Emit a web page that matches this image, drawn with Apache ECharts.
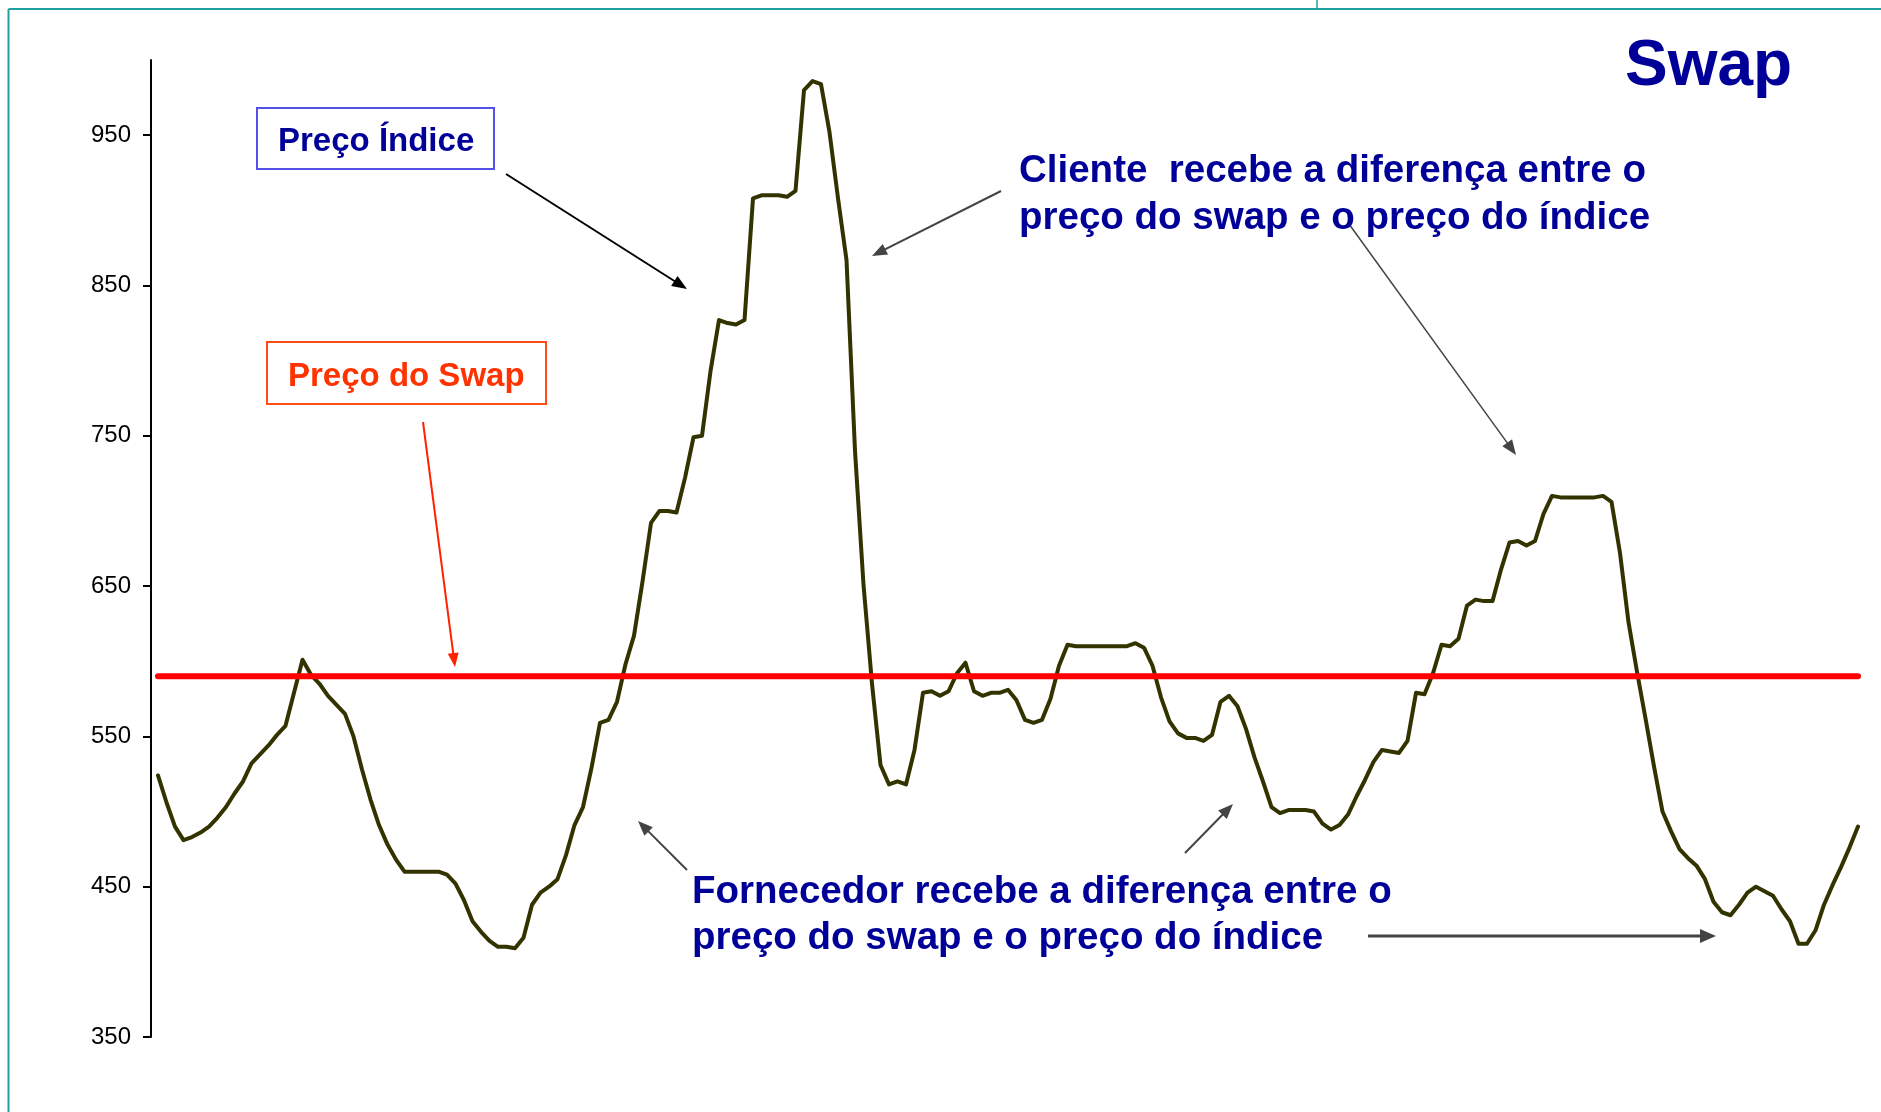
<!DOCTYPE html>
<html>
<head>
<meta charset="utf-8">
<script src="https://cdn.jsdelivr.net/npm/echarts@6/dist/echarts.min.js"></script>
<style>
html,body{margin:0;padding:0;background:#fff;}
#chart{width:1881px;height:1112px;}
</style>
</head>
<body>
<div id="chart"></div>
<script>
// ---- data ----
const indexPrice = [
524,506,490,481,483,486,490,496,503,512,
520,532,538,544,551,557,579,601,591,585,
577,571,565,550,528,508,491,478,468,460,
460,460,460,460,458,452,441,427,420,414,
410,410,409,416,438,446,450,455,471,491,
503,529,559,561,573,598,617,653,692,700,
700,699,722,749,750,793,827,825,824,827,
908,910,910,910,909,913,980,986,984,952,
908,867,740,651,585,531,518,520,518,541,
579,580,577,580,592,599,580,577,579,579,
581,574,561,559,561,575,597,611,610,610,
610,610,610,610,610,612,609,597,576,560,
552,549,549,547,551,573,577,570,555,536,
520,503,499,501,501,501,500,492,488,491,
498,510,521,533,541,540,539,547,579,578,
592,611,610,615,637,641,640,640,661,679,
680,677,680,698,710,709,709,709,709,709,
710,706,672,626,593,562,530,500,487,475,
469,464,455,440,433,431,438,446,450,447,
444,435,427,412,412,421,438,451,463,476,
490
];
const swapPrice = 590;
const yTickValues = [350, 450, 550, 650, 750, 850, 950];
const yMin = 350, yMax = 1000;

const title = 'Swap';
const labelIndex = 'Preço Índice';
const labelSwap = 'Preço do Swap';
const clienteLines = ['Cliente  recebe a diferença entre o', 'preço do swap e o preço do índice'];
const fornecedorLines = ['Fornecedor recebe a diferença entre o', 'preço do swap e o preço do índice'];

// ---- build ----
const days = indexPrice.map((_, i) => String(i + 1));
const swapData = indexPrice.map(() => swapPrice);

const FONT = '"Liberation Sans", Arial, Helvetica, sans-serif';
const BLUE = '#000099';
const TEAL = '#1fa0a0';

function arrow(x1, y1, x2, y2, color, w, headLen, headW) {
  const dx = x2 - x1, dy = y2 - y1, L = Math.hypot(dx, dy);
  const ux = dx / L, uy = dy / L;
  const bx = x2 - ux * headLen, by = y2 - uy * headLen;
  const px = -uy * headW / 2, py = ux * headW / 2;
  return [
    {type: 'line', z: 20, shape: {x1: x1, y1: y1, x2: bx + ux * 1, y2: by + uy * 1},
     style: {stroke: color, lineWidth: w}},
    {type: 'polygon', z: 20, shape: {points: [[x2, y2], [bx + px, by + py], [bx - px, by - py]]},
     style: {fill: color}}
  ];
}
function txt(x, y, s, size, color) {
  return {type: 'text', z: 25, x: x, y: y,
    style: {text: s, fill: color, font: 'bold ' + size + 'px ' + FONT,
      align: 'left', verticalAlign: 'middle', textAlign: 'left', textVerticalAlign: 'middle'}};
}

const graphics = [
  // frame
  {type: 'line', z: 30, shape: {x1: 8.5, y1: 9, x2: 1881, y2: 9}, style: {stroke: TEAL, lineWidth: 2}},
  {type: 'line', z: 30, shape: {x1: 8.5, y1: 9, x2: 8.5, y2: 1112}, style: {stroke: TEAL, lineWidth: 2}},
  {type: 'line', z: 30, shape: {x1: 1317, y1: 0, x2: 1317, y2: 9}, style: {stroke: TEAL, lineWidth: 1.5}},
  // title
  txt(1625, 67, title, 64, BLUE),
  // boxes
  {type: 'rect', z: 22, shape: {x: 257, y: 108, width: 237, height: 61},
   style: {fill: '#fff', stroke: '#5252e6', lineWidth: 2}},
  txt(278, 142, labelIndex, 33, BLUE),
  {type: 'rect', z: 22, shape: {x: 267, y: 342, width: 279, height: 62},
   style: {fill: '#fff', stroke: '#ff4d1a', lineWidth: 2}},
  txt(288, 377, labelSwap, 33, '#ff3300'),
  // annotation texts
  txt(1019, 171.5, clienteLines[0], 38.5, BLUE),
  txt(1019, 218.5, clienteLines[1], 38.5, BLUE),
  txt(692, 892, fornecedorLines[0], 38.5, BLUE),
  txt(692, 938.5, fornecedorLines[1], 38.5, BLUE)
].concat(
  arrow(506, 174, 687, 289, '#000000', 2, 15, 12),
  arrow(423, 422, 455, 667, '#ff2200', 2, 14, 11),
  arrow(1001, 191, 872, 256, '#444444', 2, 15, 12),
  arrow(1349, 224, 1516, 455, '#444444', 1.5, 15, 12),
  arrow(687, 870, 638, 821, '#444444', 2, 15, 12),
  arrow(1185, 853, 1233, 804, '#444444', 2, 15, 12),
  arrow(1368, 936, 1716, 936, '#444444', 3, 16, 14)
);

const chart = echarts.init(document.getElementById('chart'), null, {renderer: 'canvas'});
chart.setOption({
  backgroundColor: '#ffffff',
  animation: false,
  grid: {left: 158, right: 23, top: 60, bottom: 75, containLabel: false},
  xAxis: {
    type: 'category', data: days, boundaryGap: false, show: false
  },
  yAxis: {
    type: 'value', min: yMin, max: yMax, interval: 100, offset: 7,
    axisLine: {show: true, lineStyle: {color: '#000', width: 2}},
    axisTick: {show: true, inside: false, length: 8, lineStyle: {color: '#000', width: 2},
      customValues: yTickValues},
    axisLabel: {show: true, margin: 20, color: '#000', fontSize: 24, fontFamily: FONT,
      customValues: yTickValues},
    splitLine: {show: false}
  },
  series: [
    {
      name: labelIndex, type: 'line', data: indexPrice, symbol: 'none', z: 3,
      lineStyle: {color: '#333300', width: 4, join: 'round', cap: 'round'}
    },
    {
      name: labelSwap, type: 'line', data: swapData, symbol: 'none', z: 4,
      lineStyle: {color: '#ff0000', width: 6, cap: 'round'}
    }
  ],
  graphic: graphics
});
</script>
</body>
</html>
